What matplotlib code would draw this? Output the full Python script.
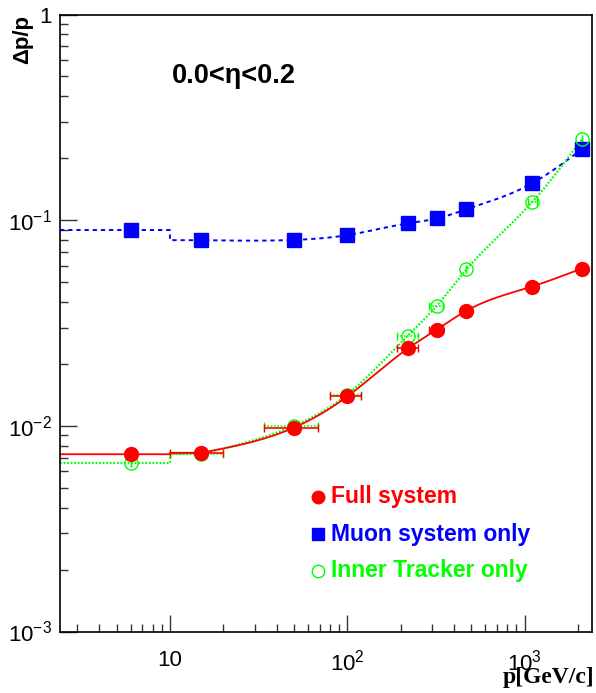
import numpy as np
import matplotlib
matplotlib.use("Agg")
import matplotlib.pyplot as plt
from matplotlib.ticker import FixedLocator, FixedFormatter, LogLocator, NullFormatter

plt.rcParams['font.family'] = ['Liberation Sans', 'DejaVu Sans']
plt.rcParams['mathtext.default'] = 'regular'
plt.rcParams['axes.unicode_minus'] = False

# ---- data ----
p = [6, 15, 50, 100, 220, 320, 470, 1100, 2100]
full_sys = [0.00728, 0.0074, 0.0098, 0.0139, 0.0238, 0.0294, 0.0363, 0.0476, 0.0582]
muon_sys = [0.0896, 0.0800, 0.0802, 0.0846, 0.0966, 0.102, 0.113, 0.151, 0.221]
inner_trk = [0.0066, 0.0073, 0.0100, 0.0142, 0.0275, 0.0384, 0.0576, 0.122, 0.247]
p_err_lo = [0, 5, 16, 20, 30, 30, 0, 60, 0]
p_err_hi = [0, 5, 18, 20, 30, 28, 0, 70, 0]
labels = ["Full system", "Muon system only", "Inner Tracker only"]
xlim = (2.4, 2400)
ylim = (1e-3, 1.0)

RED, BLUE, GREEN = '#ff0000', '#0000ff', '#00ff00'


def natural_spline(xs, ys, xq):
    xs = np.asarray(xs, float); ys = np.asarray(ys, float)
    n = len(xs)
    h = np.diff(xs)
    A = np.zeros((n, n)); b = np.zeros(n)
    A[0, 0] = 1; A[-1, -1] = 1
    for i in range(1, n - 1):
        A[i, i - 1] = h[i - 1]
        A[i, i] = 2 * (h[i - 1] + h[i])
        A[i, i + 1] = h[i]
        b[i] = 3 * ((ys[i + 1] - ys[i]) / h[i] - (ys[i] - ys[i - 1]) / h[i - 1])
    c = np.linalg.solve(A, b)
    out = np.empty_like(xq)
    for k, x in enumerate(xq):
        i = min(max(np.searchsorted(xs, x) - 1, 0), n - 2)
        dx = x - xs[i]
        bb = (ys[i + 1] - ys[i]) / h[i] - h[i] * (2 * c[i] + c[i + 1]) / 3
        d = (c[i + 1] - c[i]) / (3 * h[i])
        out[k] = ys[i] + bb * dx + c[i] * dx ** 2 + d * dx ** 3
    return out


def curve(xv, yv):
    lx = np.log10(xv); ly = np.log10(yv)
    step_x = xv[1] - p_err_lo[1]
    xs = [xlim[0], step_x, step_x, xv[1]]
    ys = [yv[0], yv[0], yv[1], yv[1]]
    q = np.linspace(lx[1], lx[-1], 300)
    s = natural_spline(lx[1:], ly[1:], q)
    return np.concatenate([xs, 10 ** q]), np.concatenate([ys, 10 ** s])


fig = plt.figure(figsize=(5.96, 6.93), dpi=100)
ax = fig.add_axes([0.1007, 0.0887, 0.8926, 0.8903])
ax.set_xscale('log'); ax.set_yscale('log')
ax.set_xlim(*xlim); ax.set_ylim(*ylim)

# curves
cx, cy = curve(p, muon_sys)
ax.plot(cx, cy, color=BLUE, lw=1.4, ls=(0, (2.2, 2.0)))
cx, cy = curve(p, inner_trk)
ax.plot(cx, cy, color=GREEN, lw=1.6, ls=(0, (0.8, 0.8)))
cx, cy = curve(p, full_sys)
ax.plot(cx, cy, color=RED, lw=1.3)

# error bars
xerr = np.array([p_err_lo, p_err_hi])
eb = ax.errorbar(p, inner_trk, xerr=xerr, fmt='none', ecolor=GREEN, elinewidth=1.2, capsize=3)
for lc in eb[2]:
    lc.set_linestyle((0, (1, 1)))
ax.errorbar(p, full_sys, xerr=xerr, fmt='none', ecolor=RED, elinewidth=1.2, capsize=3)

# markers
ax.plot(p, muon_sys, ls='none', marker='s', ms=9.5, mfc=BLUE, mec=BLUE)
ax.plot(p, inner_trk, ls='none', marker='o', ms=9.5, mfc='none', mec=GREEN, mew=1.0)
ax.plot(p, full_sys, ls='none', marker='o', ms=10, mfc=RED, mec=RED)

# ticks
ax.xaxis.set_major_locator(FixedLocator([10, 100, 1000]))
ax.xaxis.set_major_formatter(FixedFormatter(['10', r'$10^{2}$', r'$10^{3}$']))
ax.yaxis.set_major_locator(FixedLocator([1e-3, 1e-2, 1e-1, 1]))
ax.yaxis.set_major_formatter(FixedFormatter([r'$10^{-3}$', r'$10^{-2}$', r'$10^{-1}$', '1']))
ax.xaxis.set_minor_locator(LogLocator(base=10, subs=np.arange(2, 10)))
ax.yaxis.set_minor_locator(LogLocator(base=10, subs=np.arange(2, 10)))
ax.xaxis.set_minor_formatter(NullFormatter())
ax.yaxis.set_minor_formatter(NullFormatter())
ax.tick_params(which='both', direction='in', top=False, right=False, color='#333333', width=1.0)
ax.tick_params(which='major', length=12, labelsize=16)
ax.tick_params(which='minor', length=6)
ax.tick_params(axis='x', which='major', pad=13)
ax.tick_params(axis='y', which='major', pad=6)
for sp in ax.spines.values():
    sp.set_linewidth(1.2)

# texts
ax.text(0.21, 0.9, u"0.0<\u03b7<0.2", transform=ax.transAxes, fontsize=19.5,
        fontweight='bold', ha='left', va='center')
fig.text(0.02, 0.979, u"\u0394p/p", rotation=90, fontsize=16, fontweight='bold',
         ha='left', va='top')
fig.text(0.998, 1 - 683 / 693, "p[GeV/c]", fontsize=17, fontweight='bold',
         family=['Liberation Serif'], ha='right', va='baseline')

# legend
leg_x_marker = 318 / 596
leg_x_text = 331 / 596
for yy, lab, col, mk, fill in [(497, labels[0], RED, 'o', True),
                                 (534, labels[1], BLUE, 's', True),
                                 (571, labels[2], GREEN, 'o', False)]:
    fy = 1 - yy / 693
    fig.lines.append(plt.Line2D([leg_x_marker], [fy], transform=fig.transFigure,
                                marker=mk, ms=9 if mk == 'o' else 8,
                                mfc=col if fill else 'none', mec=col, mew=1.0, ls='none'))
    fig.text(leg_x_text, fy, lab, color=col, fontsize=16.5, fontweight='bold',
             ha='left', va='center')

fig.savefig('out.png', dpi=100)
